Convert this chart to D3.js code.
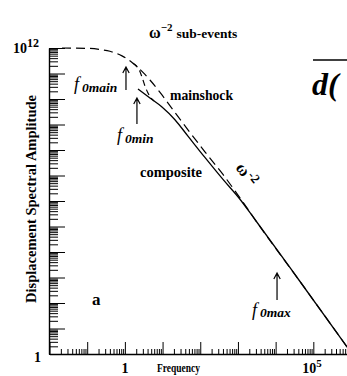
<!DOCTYPE html>
<html><head><meta charset="utf-8">
<script src="https://cdn.jsdelivr.net/npm/d3@7"></script>
<style>
body{margin:0;background:#fff}
svg{display:block;background:#fff}
text{font-family:"Liberation Serif","Times New Roman",serif;fill:#000}
</style>
</head><body>
<svg id="c" width="347" height="376"></svg>
<script>
// ---- data ----
const mainshockFreq = [0.0215, 0.0987, 0.218, 0.402, 0.617, 0.838, 1.137, 1.64, 2.23, 3.21, 4.63, 9.65, 21.3, 47.2, 133, 401, 1132, 2830, 41500, 880000];
const mainshockAmp  = [1e12, 9.7e11, 8.73e11, 7.43e11, 6.03e11, 4.9e11, 3.77e11, 2.53e11, 1.72e11, 1.01e11, 5.56e10, 1.44e10, 2.96e9, 6.2e8, 8.5e7, 1.1e7, 1.33e6, 1.88e5, 798, 1.5];

const transitionFreq = [1.64, 2.03, 2.44, 2.84, 3.41, 4.10, 4.93, 5.92];
const transitionAmp  = [2.53e11, 1.97e11, 1.31e11, 7.3e10, 3.24e10, 1.72e10, 1.09e10, 8.35e9];

const compositeFreq = [2.23, 4.63, 9.65, 21.3, 47.2, 133, 401, 1132, 2830, 41500, 880000];
const compositeAmp  = [2.47e10, 1.09e10, 4.85e9, 1.54e9, 3.5e8, 5.1e7, 7.0e6, 1.17e6, 1.88e5, 798, 1.5];

const cornerNames = ["main", "min", "max"];
const cornerFreq  = [1.07, 2.09, 1.09e4];

const xLabelValues = [1, 1e5];
const xLabelBase   = ["1", "10"];
const xLabelExp    = ["", "5"];
const yLabelValues = [1, 1e12];
const yLabelBase   = ["1", "10"];
const yLabelExp    = ["", "12"];

// ---- chart ----
const svg = d3.select("#c");
const x = d3.scaleLog().domain([1e-2, 1e6]).range([49.5, 351]);
const y = d3.scaleLog().domain([1, 1e12]).range([354, 48]);

const decX = d3.range(-2, 7).map(e => Math.pow(10, e));
const minX = [];
d3.range(-2, 6).forEach(e => { for (let k = 2; k <= 9; k++) minX.push(k * Math.pow(10, e)); });
const decY = d3.range(0, 13).map(e => Math.pow(10, e));
const minY = [];
d3.range(0, 12).forEach(e => { for (let k = 2; k <= 9; k++) minY.push(k * Math.pow(10, e)); });

function style(g){ g.selectAll("line").attr("stroke","#000").attr("stroke-width",1); g.selectAll("text").remove(); }

// x axis (ticks pointing up)
svg.append("g").attr("transform","translate(0,354)")
  .call(d3.axisTop(x).tickValues(decX).tickSize(12).tickSizeOuter(0).tickFormat(""))
  .call(style)
  .call(g => g.select(".domain").attr("stroke","#000").attr("stroke-width",1.4));
svg.append("g").attr("transform","translate(0,354)")
  .call(d3.axisTop(x).tickValues(minX).tickSize(5).tickFormat(""))
  .call(style).call(g => g.select(".domain").remove());

// y axis (ticks pointing right)
svg.append("g").attr("transform","translate(49,0)")
  .call(d3.axisRight(y).tickValues(decY).tickSize(16).tickSizeOuter(0).tickFormat(""))
  .call(style)
  .call(g => g.select(".domain").attr("stroke","#000").attr("stroke-width",1.4));
svg.append("g").attr("transform","translate(49,0)")
  .call(d3.axisRight(y).tickValues(minY).tickSize(9).tickFormat(""))
  .call(style).call(g => g.select(".domain").remove());

// curves
const line = d3.line().x(d => x(d[0])).y(d => y(d[1])).curve(d3.curveMonotoneX);
const zip = (a, b) => a.map((v, i) => [v, b[i]]);

const plot = svg.append("g");
plot.append("path").attr("d", line(zip(mainshockFreq, mainshockAmp)))
  .attr("fill","none").attr("stroke","#000").attr("stroke-width",1.2).attr("stroke-dasharray","9,5");
plot.append("path").attr("d", line(zip(transitionFreq, transitionAmp)))
  .attr("fill","none").attr("stroke","#000").attr("stroke-width",1.2).attr("stroke-dasharray","6,4");
plot.append("path").attr("d", line(zip(compositeFreq, compositeAmp)))
  .attr("fill","none").attr("stroke","#000").attr("stroke-width",1.3);

// corner-frequency arrows
const arrowSpan = {main:[67,90], min:[98,124], max:[273,300]};
cornerNames.forEach((n, i) => {
  const ax = x(cornerFreq[i]), [y1, y2] = arrowSpan[n];
  svg.append("path")
    .attr("d", `M${ax},${y2}L${ax},${y1}M${ax-3.2},${y1+6}L${ax},${y1}L${ax+3.2},${y1+6}`)
    .attr("fill","none").attr("stroke","#000").attr("stroke-width",1.2);
});

// corner-frequency labels
function fLabel(xp, yp, sub){
  const t = svg.append("text").attr("x", xp).attr("y", yp).attr("font-style","italic");
  t.append("tspan").attr("font-size",18).text("f");
  t.append("tspan").attr("font-size",13.5).attr("font-weight","bold").attr("dx",3).attr("dy",1.5).text(sub);
}
fLabel(74, 90, "0main");
fLabel(117, 141, "0min");
fLabel(252, 315.5, "0max");

// axis labels
xLabelValues.forEach((v, i) => {
  const t = svg.append("text").attr("y", 373).attr("font-size",14).attr("font-weight","bold");
  if (xLabelExp[i]) {
    t.attr("x", x(v) - 11);
    t.append("tspan").text(xLabelBase[i]);
    t.append("tspan").attr("font-size",11).attr("dy",-6).text(xLabelExp[i]);
  } else {
    t.attr("x", x(v)).attr("text-anchor","middle").text(xLabelBase[i]);
  }
});
yLabelValues.forEach((v, i) => {
  const t = svg.append("text").attr("font-size",14).attr("font-weight","bold");
  if (yLabelExp[i]) {
    t.attr("x", 13).attr("y", y(v) + 5);
    t.append("tspan").text(yLabelBase[i]);
    t.append("tspan").attr("font-size",12).attr("dy",-6).text(yLabelExp[i]);
  } else {
    t.attr("x", 37.5).attr("y", y(v) + 8).attr("text-anchor","middle").text(yLabelBase[i]);
  }
});

svg.append("text").attr("x", 157).attr("y", 372).attr("font-size",12).attr("font-weight","bold")
  .attr("textLength",43).attr("lengthAdjust","spacingAndGlyphs").text("Frequency");

svg.append("text").attr("transform","translate(36,199) rotate(-90)").attr("text-anchor","middle")
  .attr("font-size",14).attr("font-weight","bold")
  .attr("textLength",208).attr("lengthAdjust","spacingAndGlyphs")
  .text("Displacement Spectral Amplitude");

// title
const ttl = svg.append("text").attr("x",149).attr("y",38).attr("font-weight","bold");
ttl.append("tspan").attr("font-size",16).text("ω");
ttl.append("tspan").attr("font-size",11).attr("dy",-7).text("−2");
ttl.append("tspan").attr("font-size",13.5).attr("dy",7).attr("dx",4).text("sub-events");

// curve labels
svg.append("text").attr("x",170).attr("y",100).attr("font-size",14).attr("font-weight","bold")
  .attr("textLength",63).attr("lengthAdjust","spacingAndGlyphs").text("mainshock");
svg.append("text").attr("x",140).attr("y",177).attr("font-size",14).attr("font-weight","bold")
  .attr("textLength",62).attr("lengthAdjust","spacingAndGlyphs").text("composite");

const om = svg.append("text").attr("transform","translate(235,168) rotate(52)").attr("font-weight","bold");
om.append("tspan").attr("font-size",17).text("ω");
om.append("tspan").attr("font-size",13).attr("dx",1).attr("dy",-5).text("-2");

svg.append("text").attr("x",92).attr("y",305).attr("font-size",17).attr("font-weight","bold").text("a");

// cropped neighbouring formula at top right
svg.append("line").attr("x1",313).attr("x2",347).attr("y1",60).attr("y2",60).attr("stroke","#000").attr("stroke-width",1.6);
svg.append("text").attr("x",312).attr("y",95).attr("font-size",32).attr("font-style","italic").attr("font-weight","bold").text("d(");
</script>
</body></html>
